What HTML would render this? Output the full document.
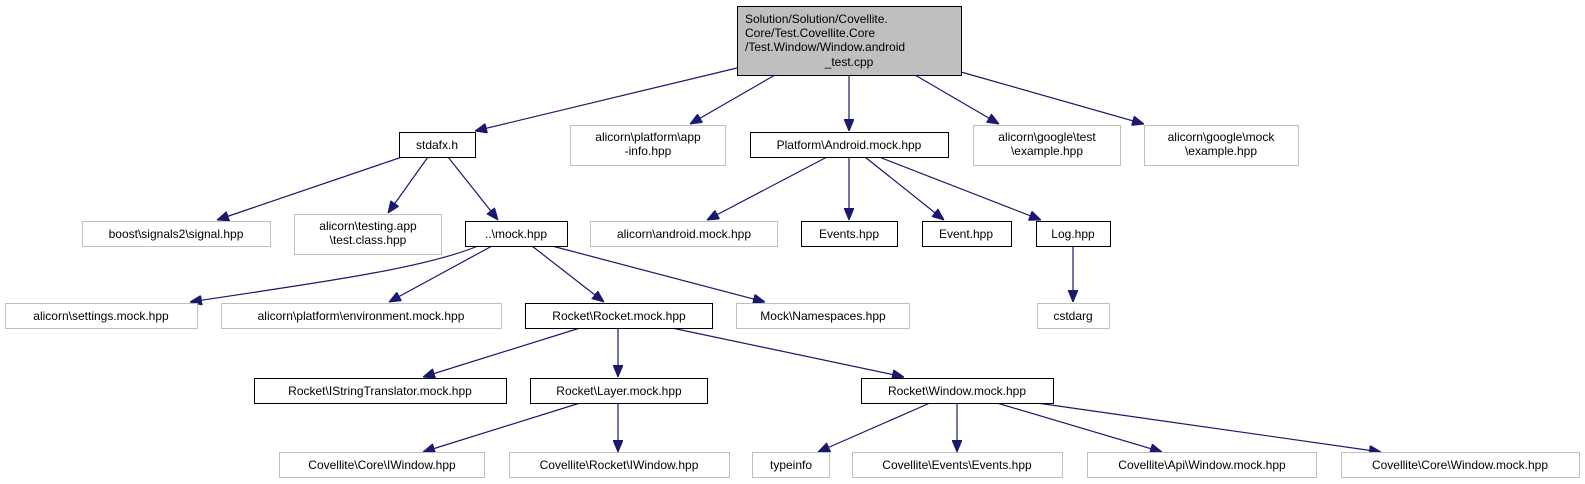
<!DOCTYPE html>
<html><head><meta charset="utf-8"><style>
html,body{margin:0;padding:0;background:#fff;width:1585px;height:484px;overflow:hidden}
text{font-family:"Liberation Sans",sans-serif;font-size:12px;fill:#000}
</style></head><body>
<svg width="1585" height="484" viewBox="0 0 1585 484" xmlns="http://www.w3.org/2000/svg">
<defs><marker id="a" markerWidth="12" markerHeight="10" refX="12" refY="5" orient="auto" markerUnits="userSpaceOnUse"><path d="M0,0 L12,5 L0,10 Z" fill="#191970" stroke="#191970"/></marker></defs>
<g stroke="#191970" stroke-width="1.2" fill="none" marker-end="url(#a)">
<line x1="737" y1="68" x2="475" y2="131"/>
<line x1="775" y1="75" x2="690" y2="124"/>
<line x1="849" y1="75" x2="849" y2="131"/>
<line x1="915" y1="75" x2="999" y2="124"/>
<line x1="961" y1="72" x2="1144" y2="124"/>
<line x1="402" y1="157" x2="217" y2="220"/>
<line x1="428" y1="157" x2="388" y2="213"/>
<line x1="448" y1="157" x2="498" y2="220"/>
<line x1="827" y1="157" x2="707" y2="220"/>
<line x1="849" y1="157" x2="849" y2="220"/>
<line x1="865" y1="157" x2="944" y2="220"/>
<line x1="879" y1="157" x2="1041" y2="220"/>
<line x1="1073" y1="246" x2="1073" y2="302"/>
<path d="M478,246 C420,270 300,285 190,302"/>
<line x1="492" y1="246" x2="389" y2="302"/>
<line x1="532" y1="246" x2="604" y2="302"/>
<line x1="552" y1="246" x2="765" y2="302"/>
<line x1="580" y1="328" x2="423" y2="377"/>
<line x1="618" y1="328" x2="618" y2="377"/>
<line x1="672" y1="328" x2="904" y2="377"/>
<line x1="580" y1="403" x2="423" y2="452"/>
<line x1="618" y1="403" x2="618" y2="452"/>
<line x1="930" y1="403" x2="818" y2="452"/>
<line x1="957" y1="403" x2="957" y2="452"/>
<line x1="997" y1="403" x2="1162" y2="452"/>
<line x1="1037" y1="403" x2="1381" y2="452"/>
</g>
<g stroke-width="1">
<rect x="737.5" y="6.5" width="224" height="69" fill="#bfbfbf" stroke="#000"/>
<g fill="#fff" stroke="#000">
<rect x="399.5" y="132.5" width="76" height="25"/>
<rect x="750.5" y="132.5" width="198" height="25"/>
<rect x="465.5" y="221.5" width="102" height="25"/>
<rect x="801.5" y="221.5" width="96" height="25"/>
<rect x="922.5" y="221.5" width="89" height="25"/>
<rect x="1036.5" y="221.5" width="74" height="25"/>
<rect x="525.5" y="303.5" width="187" height="25"/>
<rect x="254.5" y="378.5" width="252" height="25"/>
<rect x="530.5" y="378.5" width="177" height="25"/>
<rect x="861.5" y="378.5" width="192" height="25"/>
</g>
<g fill="#fff" stroke="#bfbfbf">
<rect x="570.5" y="125.5" width="155" height="40"/>
<rect x="973.5" y="125.5" width="147" height="40"/>
<rect x="1144.5" y="125.5" width="154" height="40"/>
<rect x="82.5" y="221.5" width="188" height="25"/>
<rect x="294.5" y="214.5" width="147" height="40"/>
<rect x="590.5" y="221.5" width="187" height="25"/>
<rect x="5.5" y="303.5" width="192" height="25"/>
<rect x="221.5" y="303.5" width="280" height="25"/>
<rect x="736.5" y="303.5" width="173" height="25"/>
<rect x="1037.5" y="303.5" width="72" height="25"/>
<rect x="279.5" y="452.5" width="205" height="25"/>
<rect x="509.5" y="452.5" width="220" height="25"/>
<rect x="752.5" y="452.5" width="77" height="25"/>
<rect x="852.5" y="452.5" width="210" height="25"/>
<rect x="1087.5" y="452.5" width="229" height="25"/>
<rect x="1341.5" y="452.5" width="238" height="25"/>
</g>
</g>
<g text-anchor="middle">
<g style="font-size:12.5px">
<text x="849" y="23" text-anchor="start" dx="-104">Solution/Solution/Covellite.</text>
<text x="849" y="37" text-anchor="start" dx="-104">Core/Test.Covellite.Core</text>
<text x="849" y="51" text-anchor="start" dx="-104">/Test.Window/Window.android</text>
<text x="849" y="66">_test.cpp</text>
</g>
<text x="437" y="149">stdafx.h</text>
<text x="648" y="141">alicorn\platform\app</text><text x="648" y="155">-info.hpp</text>
<text x="849" y="149">Platform\Android.mock.hpp</text>
<text x="1047" y="141">alicorn\google\test</text><text x="1047" y="155">\example.hpp</text>
<text x="1221" y="141">alicorn\google\mock</text><text x="1221" y="155">\example.hpp</text>
<text x="176" y="238">boost\signals2\signal.hpp</text>
<text x="368" y="230">alicorn\testing.app</text><text x="368" y="244">\test.class.hpp</text>
<text x="516" y="238">..\mock.hpp</text>
<text x="684" y="238">alicorn\android.mock.hpp</text>
<text x="849" y="238">Events.hpp</text>
<text x="966" y="238">Event.hpp</text>
<text x="1073" y="238">Log.hpp</text>
<text x="101" y="320">alicorn\settings.mock.hpp</text>
<text x="361" y="320">alicorn\platform\environment.mock.hpp</text>
<text x="619" y="320">Rocket\Rocket.mock.hpp</text>
<text x="823" y="320">Mock\Namespaces.hpp</text>
<text x="1073" y="320">cstdarg</text>
<text x="380" y="395">Rocket\IStringTranslator.mock.hpp</text>
<text x="619" y="395">Rocket\Layer.mock.hpp</text>
<text x="957" y="395">Rocket\Window.mock.hpp</text>
<text x="382" y="469">Covellite\Core\IWindow.hpp</text>
<text x="619" y="469">Covellite\Rocket\IWindow.hpp</text>
<text x="791" y="469">typeinfo</text>
<text x="957" y="469">Covellite\Events\Events.hpp</text>
<text x="1202" y="469">Covellite\Api\Window.mock.hpp</text>
<text x="1460" y="469">Covellite\Core\Window.mock.hpp</text>
</g>
</svg>
</body></html>
